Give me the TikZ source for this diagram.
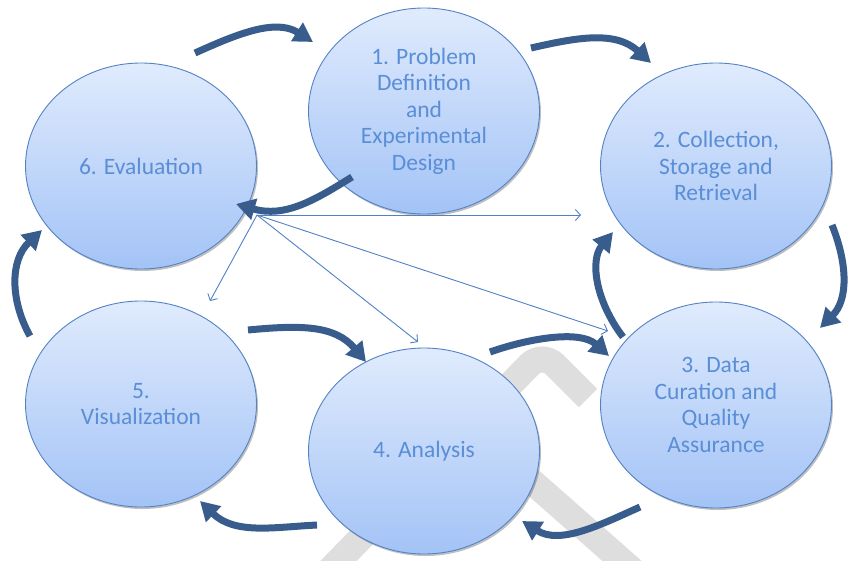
\documentclass[tikz,border=0pt]{standalone}
\usepackage{fontspec}
\setmainfont{Carlito}
\usetikzlibrary{shapes.geometric,arrows.meta,shadows}
\definecolor{ellTop}{RGB}{224,235,253}
\definecolor{ellBot}{RGB}{163,195,246}
\definecolor{ellB}{RGB}{84,130,196}
\definecolor{txt}{RGB}{90,142,214}
\definecolor{arr}{RGB}{56,93,140}
\definecolor{thinc}{RGB}{79,129,196}
\definecolor{wm}{RGB}{222,222,222}
\begin{document}
\begin{tikzpicture}[x=1pt,y=-1pt,
  stage/.style={ellipse, draw=ellB, line width=0.9pt, top color=ellTop, bottom color=ellBot,
    minimum width=231pt, minimum height=206pt, inner sep=0pt, align=center, text=txt,
    font=\fontsize{23.5}{26.5}\selectfont,
    drop shadow={shadow xshift=1.5pt, shadow yshift=-2pt, opacity=0.25, fill=black}},
  flow/.style={draw=arr, line width=7pt, -{Triangle[length=19pt,width=21pt]}},
  link/.style={draw=thinc, line width=0.9pt, -{Straight Barb[length=5pt,width=11pt]}},
  wmark/.style={draw=wm, line width=26pt}]
\useasboundingbox (0,0) rectangle (851,560);
% watermark
\coordinate (w1) at (320,580);
\coordinate (w2) at (542,352);
\coordinate (w3) at (588,398);
\coordinate (w4) at (470,427);
\coordinate (w5) at (655,590);
\draw[wmark, rounded corners=18pt] (w1) -- (w2) -- (w3);
\draw[wmark] (w4) -- (w5);
% stages
\node[stage] (e1) at (424,111) {1. Problem\\Definition\\and\\Experimental\\Design};
\node[stage] (e2) at (716,166) {2. Collection,\\Storage and\\Retrieval};
\node[stage] (e3) at (716,405) {3. Data\\Curation and\\Quality\\Assurance};
\node[stage] (e4) at (424,451) {4. Analysis};
\node[stage] (e5) at (141,404) {5.\\Visualization};
\node[stage] (e6) at (141,166) {6. Evaluation};
% thick cycle arrows
\coordinate (a61s) at (195,53);  \coordinate (a61e) at (313,42);
\coordinate (a12s) at (531,48);  \coordinate (a12e) at (651,63);
\coordinate (a23s) at (832,225); \coordinate (a23e) at (820,328);
\coordinate (a32s) at (623,337); \coordinate (a32e) at (613,232);
\coordinate (a43s) at (490,352); \coordinate (a43e) at (609,356);
\coordinate (a34s) at (640,507); \coordinate (a34e) at (522,521);
\coordinate (a45s) at (317,525); \coordinate (a45e) at (200,501);
\coordinate (a56s) at (30,336);  \coordinate (a56e) at (42,230);
\coordinate (a54s) at (248,330); \coordinate (a54e) at (366,362);
\coordinate (a16s) at (352,177); \coordinate (a16e) at (236,204);
\draw[flow] (a61s) .. controls (235,35) and (275,18) .. (a61e);
\draw[flow] (a12s) .. controls (575,38) and (615,30) .. (a12e);
\draw[flow] (a23s) .. controls (848,265) and (848,300) .. (a23e);
\draw[flow] (a32s) .. controls (595,300) and (590,260) .. (a32e);
\draw[flow] (a43s) .. controls (530,338) and (580,330) .. (a43e);
\draw[flow] (a34s) .. controls (600,525) and (560,545) .. (a34e);
\draw[flow] (a45s) .. controls (275,527) and (235,535) .. (a45e);
\draw[flow] (a56s) .. controls (10,300) and (10,260) .. (a56e);
\draw[flow] (a54s) .. controls (300,325) and (335,325) .. (a54e);
\draw[flow] (a16s) .. controls (315,200) and (285,218) .. (a16e);
% thin links
\coordinate (o) at (257,215);
\coordinate (t1) at (581,215);
\coordinate (t2) at (210,301);
\coordinate (t3) at (418,342);
\coordinate (t4) at (608,331);
\draw[link] (o) -- (t1);
\draw[link] (o) -- (t2);
\draw[link] (o) -- (t3);
\draw[link] (o) -- (t4);
\end{tikzpicture}
\end{document}
